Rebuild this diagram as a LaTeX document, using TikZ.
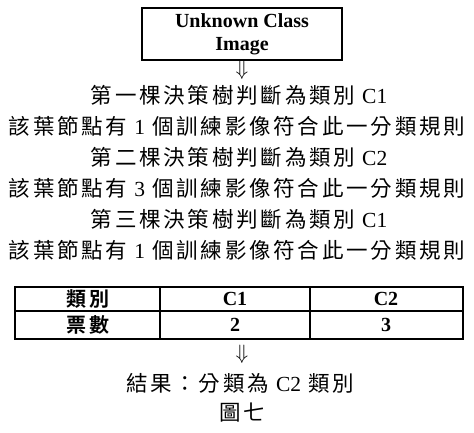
\documentclass[tikz,border=0pt]{standalone}
\usepackage{fontspec}
\setmainfont{Liberation Serif}
\newfontfamily\cjk[LetterSpace=13]{Noto Sans CJK TC}
\newfontfamily\cjkb[LetterSpace=12,BoldFont={Noto Sans CJK TC Bold}]{Noto Sans CJK TC}
\newcommand\gapsp{\hspace{7pt}}
\newcommand\gapsq{\hspace{7pt}}
\begin{document}
\begin{tikzpicture}[x=1pt,y=-1pt,
  txt/.style={inner sep=0pt,anchor=center,font=\fontsize{21.5}{24}\selectfont},
  arr/.style={inner sep=0pt,anchor=center,font=\fontsize{21}{22}\selectfont},
  cell/.style={inner sep=0pt,anchor=center,font=\fontsize{20}{22}\selectfont\bfseries}]
\useasboundingbox (0,0) rectangle (474,433);
\node[draw,line width=1.3pt,minimum width=200pt,minimum height=52pt,inner sep=0pt,align=center,
  font=\fontsize{20}{23}\selectfont\bfseries] (box) at (242,34) {Unknown Class\\Image};
\node[arr] (a1) at (242,70) {$\Downarrow$};
\node[txt] (l1) at (239,95) {{\cjk 第一棵決策樹判斷為類別}\gapsp C1};
\node[txt] (l2) at (237,126) {{\cjk 該葉節點有}\gapsp 1\gapsq{\cjk 個訓練影像符合此一分類規則}};
\node[txt] (l3) at (239,157) {{\cjk 第二棵決策樹判斷為類別}\gapsp C2};
\node[txt] (l4) at (237,188) {{\cjk 該葉節點有}\gapsp 3\gapsq{\cjk 個訓練影像符合此一分類規則}};
\node[txt] (l5) at (239,219) {{\cjk 第三棵決策樹判斷為類別}\gapsp C1};
\node[txt] (l6) at (237,250) {{\cjk 該葉節點有}\gapsp 1\gapsq{\cjk 個訓練影像符合此一分類規則}};
% table
\draw[line width=1.3pt] (15,287) rectangle (463,339);
\draw[line width=1.3pt] (15,311) -- (463,311);
\draw[line width=1.3pt] (160,287) -- (160,339);
\draw[line width=1.3pt] (310,287) -- (310,339);
\node[cell] (h1) at (88,299) {\cjkb\bfseries 類別};
\node[cell] (h2) at (235,299) {C1};
\node[cell] (h3) at (386,299) {C2};
\node[cell] (r1) at (88,325) {\cjkb\bfseries 票數};
\node[cell] (r2) at (235,325) {2};
\node[cell] (r3) at (386,325) {3};
\node[arr] (a2) at (242,354) {$\Downarrow$};
\node[txt] (res) at (240,383) {{\cjk 結果：分類為}\gapsp C2\gapsq{\cjk 類別}};
\node[txt] (fig) at (242,413) {\cjk 圖七};
\end{tikzpicture}
\end{document}
